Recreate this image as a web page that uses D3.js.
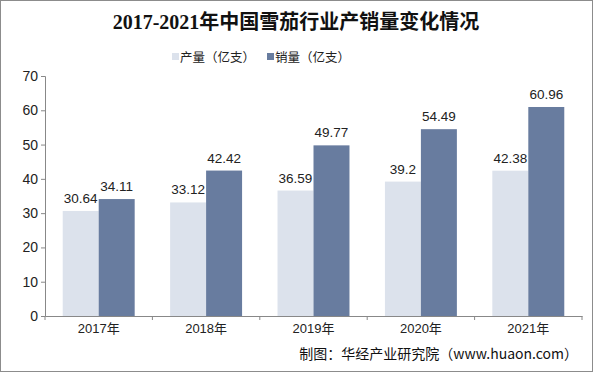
<!DOCTYPE html>
<html>
<head>
<meta charset="utf-8">
<script src="https://cdn.jsdelivr.net/npm/d3@7"></script>
<style>
  body { margin:0; background:#fff; }
  svg text { font-family: "Liberation Sans", Arial, "Noto Sans CJK SC", sans-serif; }
</style>
</head>
<body>
<div id="chart"></div>
<script>
var years = ['2017年','2018年','2019年','2020年','2021年'];
var output = [30.64, 33.12, 36.59, 39.2, 42.38];
var sales = [34.11, 42.42, 49.77, 54.49, 60.96];
var seriesNames = ['产量（亿支）','销量（亿支）'];
var yTicks = [0,10,20,30,40,50,60,70];

var W=593, H=372,
    colors=['#dce2ec','#687c9f'];

var svg = d3.select('#chart').append('svg')
  .attr('width',W).attr('height',H);

svg.append('rect')
  .attr('x',0.5).attr('y',0.5).attr('width',W-1).attr('height',H-1)
  .attr('fill','#fff').attr('stroke','#8c8c8c');

svg.append('text')
  .attr('x',296).attr('y',29).attr('text-anchor','middle')
  .style('font-family','"Liberation Serif", "Noto Sans CJK SC", serif')
  .style('font-size','20px').style('font-weight','bold').attr('fill','#111')
  .text('2017-2021年中国雪茄行业产销量变化情况');

var x0 = d3.scaleBand().domain(years).range([45,582]);
var bw = x0.bandwidth();
var x1 = d3.scaleBand().domain([0,1]).range([bw*0.165, bw*0.835]);
var y = d3.scaleLinear().domain([0,70]).range([316,76]);

// legend
var leg = [{x:172},{x:267}];
leg.forEach(function(d,i){
  svg.append('rect').attr('x',d.x).attr('y',53).attr('width',7).attr('height',7).attr('fill',colors[i]);
  svg.append('text').attr('x',d.x+8).attr('y',61.5)
    .style('font-family','"Noto Sans CJK SC", sans-serif').style('font-size','12.5px').attr('fill','#222')
    .text(seriesNames[i]);
});

// y axis
var ya = svg.append('g').attr('transform','translate(45,0)')
  .call(d3.axisLeft(y).tickValues(yTicks).tickSize(4).tickPadding(3));
ya.select('.domain').attr('stroke','#888');
ya.selectAll('.tick line').attr('stroke','#888');
ya.selectAll('.tick text').style('font-size','14px').attr('fill','#222');

// x axis
var xa = svg.append('g').attr('transform','translate(0,316)')
  .call(d3.axisBottom(x0).tickSize(0).tickPadding(8));
xa.select('.domain').attr('stroke','#888');
xa.selectAll('.tick text').style('font-size','13px').attr('fill','#222');
var bounds = years.map(function(d){ return x0(d); }).concat([x0.range()[1]]);
svg.append('g').selectAll('line').data(bounds).enter().append('line')
  .attr('x1',function(d){return d;}).attr('x2',function(d){return d;})
  .attr('y1',316).attr('y2',320).attr('stroke','#888');

var rows = years.map(function(d,i){ return {year:d, v:[output[i], sales[i]]}; });
var g = svg.append('g').selectAll('g').data(rows).enter().append('g')
  .attr('transform',function(d){ return 'translate('+x0(d.year)+',0)'; });

g.selectAll('rect').data(function(d){ return d.v; }).enter().append('rect')
  .attr('x',function(d,i){ return x1(i); })
  .attr('width',x1.bandwidth())
  .attr('y',function(d){ return y(d); })
  .attr('height',function(d){ return y(0)-y(d); })
  .attr('fill',function(d,i){ return colors[i]; });

g.selectAll('text').data(function(d){ return d.v; }).enter().append('text')
  .attr('x',function(d,i){ return x1(i)+x1.bandwidth()/2; })
  .attr('y',function(d){ return y(d)-8; })
  .attr('text-anchor','middle').style('font-size','13.5px').attr('fill','#222')
  .text(function(d){ return d; });

svg.append('text').attr('x',578).attr('y',359).attr('text-anchor','end')
  .style('font-family','"Noto Sans CJK SC", sans-serif').style('font-size','14px').attr('fill','#111')
  .text('制图：华经产业研究院（www.huaon.com）');
</script>
</body>
</html>
